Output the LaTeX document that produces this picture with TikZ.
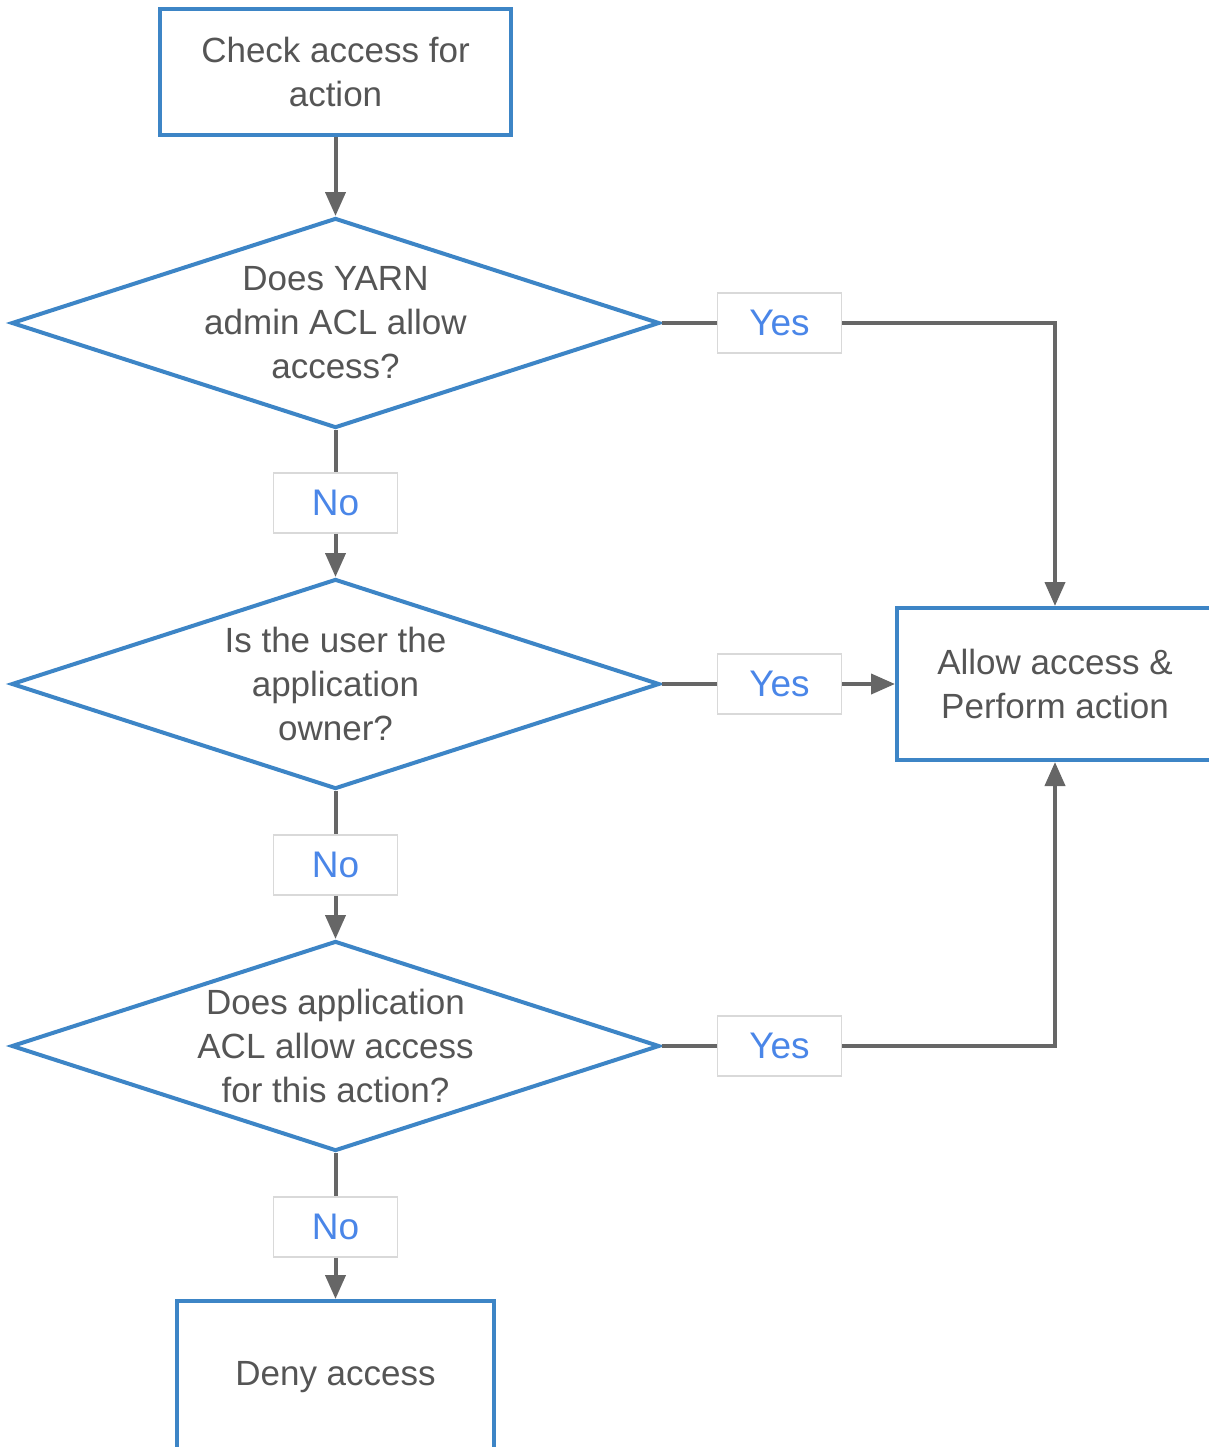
\documentclass[tikz,border=0pt]{standalone}
\usepackage{fontspec}
\setmainfont{Liberation Sans}
\usetikzlibrary{shapes.geometric,arrows.meta}
\definecolor{boxblue}{HTML}{3D85C6}
\definecolor{linegray}{HTML}{666666}
\definecolor{textgray}{HTML}{555555}
\definecolor{answerblue}{HTML}{4A86E8}
\definecolor{answerframe}{HTML}{D9D9D9}

\begin{document}
\begin{tikzpicture}[x=0.5pt,y=-0.5pt,
  actionbox/.style={draw=boxblue,line width=2pt,fill=white,text=textgray,align=center,
    font=\fontsize{17.5}{22}\selectfont,inner sep=0pt},
  decision/.style={diamond,draw=boxblue,line width=2pt,fill=white,text=textgray,align=center,
    font=\fontsize{17.5}{22}\selectfont,inner sep=0pt,aspect=3.09,
    minimum width=324pt,minimum height=105pt},
  answer/.style={draw=answerframe,line width=0.6pt,fill=white,text=answerblue,
    font=\fontsize{18.5}{22}\selectfont,minimum width=62pt,minimum height=30pt,inner sep=0pt},
  link/.style={draw=linegray,line width=2pt},
  flow/.style={link,-{Triangle[length=12pt,width=10pt]}}]
  \useasboundingbox (0,0) rectangle (1209,1447);
  %\draw[very thin,color=gray] (0,0) grid[step=100] (1209,1447);
  \node[actionbox,minimum width=175.5pt,minimum height=63pt] (check) at (335.5,72) {Check access for\\action};
  \node[decision] (yarnacl) at (335.5,323) {Does YARN\\admin ACL allow\\access?};
  \node[answer] (no1) at (335.5,503) {No};
  \node[decision] (owner) at (335.5,684) {Is the user the\\application\\owner?};
  \node[answer] (no2) at (335.5,865) {No};
  \node[decision] (appacl) at (335.5,1046) {Does application\\ACL allow access\\for this action?};
  \node[answer] (no3) at (335.5,1227) {No};
  \node[actionbox,minimum width=158.5pt,minimum height=76pt] (deny) at (335.5,1377) {Deny access};
  \node[actionbox,minimum width=158pt,minimum height=76pt] (allow) at (1055,684) {Allow access \&\\Perform action};
  \node[answer] (yes1) at (779.5,323) {Yes};
  \node[answer] (yes2) at (779.5,684) {Yes};
  \node[answer] (yes3) at (779.5,1046) {Yes};

  \draw[flow] (check) -- (yarnacl);
  \draw[link] (yarnacl) -- (no1);
  \draw[flow] (no1) -- (owner);
  \draw[link] (owner) -- (no2);
  \draw[flow] (no2) -- (appacl);
  \draw[link] (appacl) -- (no3);
  \draw[flow] (no3) -- (deny);
  \draw[link] (yarnacl) -- (yes1);
  \draw[flow] (yes1) -| (allow);
  \draw[link] (owner) -- (yes2);
  \draw[flow] (yes2) -- (allow);
  \draw[link] (appacl) -- (yes3);
  \draw[flow] (yes3) -| (allow);
\end{tikzpicture}
\end{document}
